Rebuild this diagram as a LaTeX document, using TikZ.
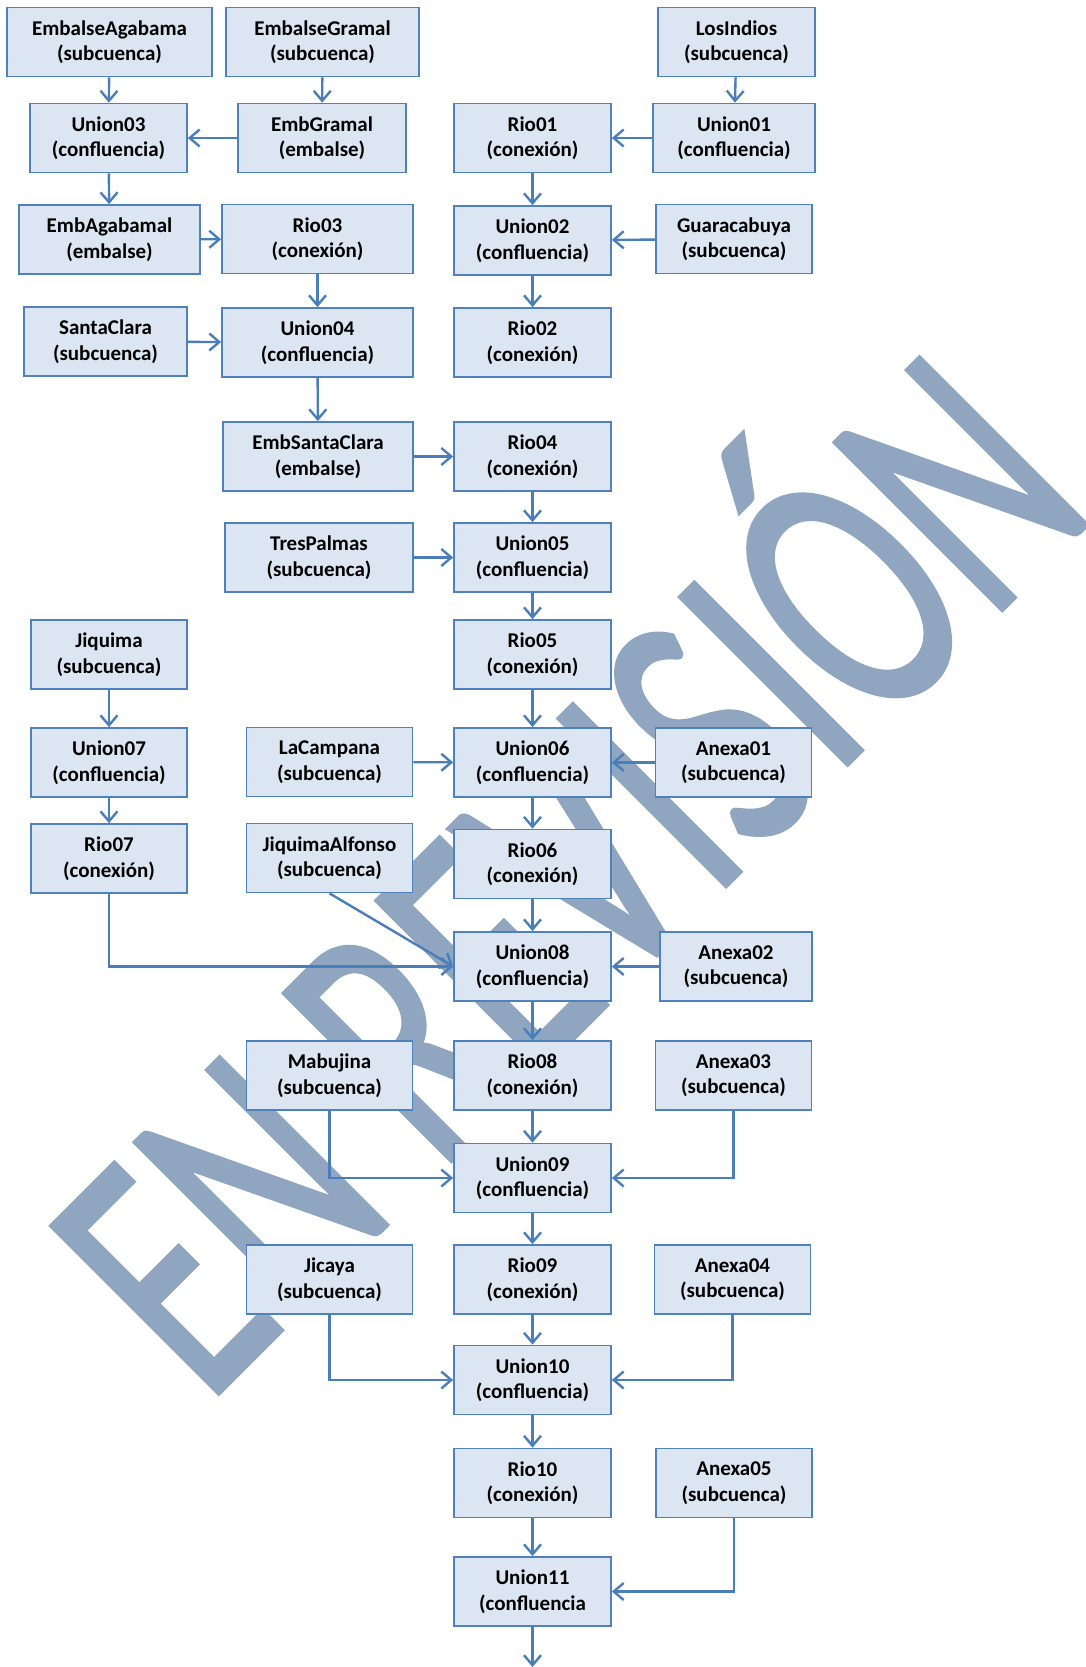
\documentclass[tikz,border=0pt]{standalone}
\usepackage{fontspec}
\setmainfont{Carlito}
\newfontfamily\markfont[FakeBold=1.2]{Carlito}
\usepackage{graphicx}
\usetikzlibrary{arrows.meta}
\definecolor{boxfill}{RGB}{220,230,242}
\definecolor{boxline}{RGB}{79,129,189}
\definecolor{flowline}{RGB}{74,126,187}
\definecolor{markgray}{RGB}{143,165,192}

\begin{document}
\begin{tikzpicture}[x=1pt,y=-1pt,
  box/.style={draw=boxline,fill=boxfill,line width=1.7pt,minimum width=157pt,minimum height=69pt,
    inner sep=0pt,align=center,font=\fontsize{21}{25.5}\selectfont\bfseries},
  flow/.style={draw=flowline,line width=2.4pt,-{Straight Barb[length=10pt,width=17pt]}}]

% Page of the same size as the scheme
\useasboundingbox (0,0) rectangle (1086,1667);

% Watermark, lying behind the scheme
\node [rotate=45,anchor=base west,inner sep=0pt,text=markgray,font=\markfont\fontsize{369}{400}\selectfont]
  (mark) at (206,1406) {\scalebox{0.655}[1]{EN REVISIÓN}};

% Upper part: reservoirs and the first confluences
\node [box,minimum width=205pt] (EmbalseAgabama) at (109.5,42) {EmbalseAgabama\\(subcuenca)};
\node [box,minimum width=193pt] (EmbalseGramal) at (322.5,42) {EmbalseGramal\\(subcuenca)};
\node [box] (LosIndios) at (736.5,42) {LosIndios\\(subcuenca)};

\node [box] (Union03) at (108.5,138) {Union03\\(confluencia)};
\node [box,minimum width=168pt] (EmbGramal) at (322,138) {EmbGramal\\(embalse)};
\node [box] (Rio01) at (532.5,138) {Rio01\\(conexión)};
\node [box,minimum width=162pt] (Union01) at (734,138) {Union01\\(confluencia)};

\node [box,minimum width=181pt] (EmbAgabamal) at (109.5,239.5) {EmbAgabamal\\(embalse)};
\node [box,minimum width=191pt] (Rio03) at (317.5,239) {Rio03\\(conexión)};
\node [box] (Union02) at (532.5,240.5) {Union02\\(confluencia)};
\node [box,minimum width=156pt] (Guaracabuya) at (734,239) {Guaracabuya\\(subcuenca)};

\node [box,minimum width=163pt] (SantaClara) at (105.5,341.5) {SantaClara\\(subcuenca)};
\node [box,minimum width=191pt] (Union04) at (317.5,342.5) {Union04\\(confluencia)};
\node [box] (Rio02) at (532.5,342.5) {Rio02\\(conexión)};

\node [box,minimum width=190pt] (EmbSantaClara) at (318,456.5) {EmbSantaClara\\(embalse)};
\node [box] (Rio04) at (532.5,456.5) {Rio04\\(conexión)};

\node [box,minimum width=188pt] (TresPalmas) at (319,557.5) {TresPalmas\\(subcuenca)};
\node [box] (Union05) at (532.5,557.5) {Union05\\(confluencia)};

% Middle part
\node [box,minimum width=156pt] (Jiquima) at (109,654.5) {Jiquima\\(subcuenca)};
\node [box] (Rio05) at (532.5,654.5) {Rio05\\(conexión)};

\node [box,minimum width=156pt] (Union07) at (109,762.5) {Union07\\(confluencia)};
\node [box,minimum width=166pt] (LaCampana) at (329.5,762) {LaCampana\\(subcuenca)};
\node [box] (Union06) at (532.5,762.5) {Union06\\(confluencia)};
\node [box,minimum width=156pt] (Anexa01) at (733.5,762.5) {Anexa01\\(subcuenca)};

\node [box,minimum width=156pt] (Rio07) at (109,858.5) {Rio07\\(conexión)};
\node [box,minimum width=166pt] (JiquimaAlfonso) at (329.5,858) {JiquimaAlfonso\\(subcuenca)};
\node [box] (Rio06) at (532.5,864) {Rio06\\(conexión)};

\node [box] (Union08) at (532.5,966.5) {Union08\\(confluencia)};
\node [box,minimum width=152pt] (Anexa02) at (736,966.5) {Anexa02\\(subcuenca)};

% Lower part
\node [box,minimum width=166pt] (Mabujina) at (329.5,1075.5) {Mabujina\\(subcuenca)};
\node [box] (Rio08) at (532.5,1075.5) {Rio08\\(conexión)};
\node [box,minimum width=156pt] (Anexa03) at (733.5,1075.5) {Anexa03\\(subcuenca)};

\node [box] (Union09) at (532.5,1178) {Union09\\(confluencia)};

\node [box,minimum width=166pt] (Jicaya) at (329.5,1279.5) {Jicaya\\(subcuenca)};
\node [box] (Rio09) at (532.5,1279.5) {Rio09\\(conexión)};
\node [box,minimum width=156pt] (Anexa04) at (732.5,1279.5) {Anexa04\\(subcuenca)};

\node [box] (Union10) at (532.5,1380) {Union10\\(confluencia)};

\node [box] (Rio10) at (532.5,1483) {Rio10\\(conexión)};
\node [box,minimum width=156pt] (Anexa05) at (734,1483) {Anexa05\\(subcuenca)};

\node [box] (Union11) at (532.5,1591.5) {Union11\\(confluencia};

% Outlet at the lower edge
\coordinate (out) at (532.5,1667);

% Straight links
\foreach \a/\b in {EmbalseAgabama/Union03,EmbalseGramal/EmbGramal,EmbGramal/Union03,
    Union03/EmbAgabamal,EmbAgabamal/Rio03,Rio03/Union04,SantaClara/Union04,
    Union04/EmbSantaClara,EmbSantaClara/Rio04,LosIndios/Union01,Union01/Rio01,
    Rio01/Union02,Guaracabuya/Union02,Union02/Rio02,Rio04/Union05,TresPalmas/Union05,
    Union05/Rio05,Rio05/Union06,LaCampana/Union06,Anexa01/Union06,Union06/Rio06,
    Rio06/Union08,Jiquima/Union07,Union07/Rio07,Anexa02/Union08,Union08/Rio08,
    Rio08/Union09,Union09/Rio09,Rio09/Union10,Union10/Rio10,Rio10/Union11,Union11/out}
	\draw [flow] (\a)--(\b);

% Links with a bend
\foreach \a/\b in {Rio07/Union08,Mabujina/Union09,Anexa03/Union09,Jicaya/Union10,
    Anexa04/Union10,Anexa05/Union11}
	\draw [flow] (\a.south) |- (\b);

\draw [flow] (JiquimaAlfonso.south)--(Union08.west);

\end{tikzpicture}
\end{document}
